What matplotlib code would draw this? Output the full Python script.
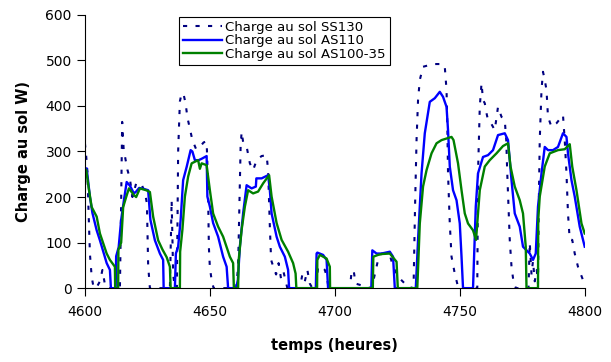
import numpy as np
import matplotlib
matplotlib.use("Agg")
import matplotlib.pyplot as plt

# heures / valeurs
t_ss130 = [4600, 4600.5, 4601, 4601.5, 4602, 4602.7, 4603.5, 4605, 4606, 4607, 4608, 4609,
           4614, 4614.4, 4614.9, 4615.5, 4616, 4617, 4618, 4619, 4620.5, 4622.5, 4624, 4624.8,
           4625.3, 4626, 4634, 4634.7, 4635.3, 4636, 4636.8, 4637.3, 4638, 4638.7, 4639.5,
           4640.3, 4641, 4642, 4643, 4644.5, 4646, 4647.5, 4648.7, 4649.2, 4649.6, 4650,
           4650.7, 4651.5, 4660.5, 4661.3, 4662.3, 4662.7, 4663.3, 4664.7, 4666, 4667.3,
           4668.7, 4670.7, 4672.7, 4673.3, 4674, 4674.5, 4675.5, 4676.5, 4677.5, 4678.5,
           4679.5, 4681, 4686, 4687, 4688, 4689, 4690, 4691, 4692.5, 4693.3, 4695, 4696,
           4696.8, 4697.5, 4706, 4706.7, 4707.5, 4708.3, 4714.5, 4715.5, 4717.3, 4718.7,
           4722, 4723.3, 4725.3, 4727.3, 4729.3, 4731.5, 4732.1, 4732.7, 4733.3, 4734,
           4735.3, 4739.3, 4743.3, 4744, 4744.7, 4745, 4745.3, 4746, 4746.7, 4748, 4749.3,
           4750, 4757, 4757.3, 4758, 4758.7, 4759.3, 4760, 4760.7, 4761.3, 4762.5, 4764,
           4765.3, 4766.7, 4768, 4768.6, 4769, 4769.5, 4770, 4770.7, 4771.6, 4772.5, 4777.5,
           4778, 4778.7, 4779.3, 4780, 4780.8, 4781.3, 4781.6, 4782, 4782.7, 4783.3, 4784, 4784.7,
           4785.3, 4786.7, 4788.7, 4790.7, 4791.3, 4792, 4792.7, 4793.3, 4794, 4795, 4796,
           4797.3, 4799.3, 4800]
ss130 = [318, 290, 255, 160, 75, 25, 0, 5, 15, 40, 8, 0,
         0, 150, 365, 305, 290, 260, 240, 200, 230, 230, 210, 186,
         50, 0, 0, 193, 30, 0, 0, 300, 410, 428, 425,
         405, 375, 350, 325, 305, 310, 320, 322, 240, 90, 45,
         18, 0, 0, 47, 311, 343, 321, 311, 274, 259,
         281, 290, 292, 259, 135, 62, 45, 30, 55, 20,
         35, 0, 0, 30, 15, 40, 10, 0, 0, 47, 45, 40,
         25, 0, 0, 35, 40, 10, 0, 18, 62, 76,
         73, 47, 25, 14, 3, 0, 179, 325, 413, 457,
         486, 492, 492, 486, 435, 362, 252, 142, 69, 32, 3,
         0, 0, 252, 398, 450, 413, 406, 384, 369, 362, 347,
         398, 376, 369, 325, 252, 179, 106, 47, 10, 0, 0,
         100, 30, 60, 15, 40, 10, 179, 325, 435, 475, 457, 435,
         376, 354, 362, 376, 380, 325, 252, 164, 106, 106, 76,
         47, 18, 10]

t_as110 = [4600, 4600.7, 4602, 4603, 4604.7, 4606, 4608.7, 4610, 4610.4, 4612.3, 4612.5,
           4613.5, 4614.5, 4615.6, 4616.7, 4618, 4619.6, 4620.5, 4621.7, 4623.5, 4625.3,
           4626.2, 4628, 4630, 4631.3, 4631.5, 4636, 4636.4, 4637.3, 4638.3, 4639.3, 4640.7,
           4642.3, 4643, 4644, 4645.5, 4646.7, 4648.7, 4649, 4650, 4651.3, 4653.3, 4655.3,
           4656.7, 4657.3, 4660.5, 4661.2, 4662, 4663.3, 4664.7, 4666.7, 4668.4, 4668.6,
           4670.7, 4673.3, 4674, 4674.7, 4676.7, 4678, 4680, 4681.3, 4681.7, 4692.4, 4692.7,
           4693, 4695.3, 4696.7, 4697.3, 4714.6, 4715, 4716.7, 4718.7, 4722, 4723.3, 4724,
           4732.4, 4733.3, 4734.7, 4736, 4738, 4740, 4742, 4743.3, 4744.7, 4745.3, 4746,
           4747.3, 4748.7, 4750, 4750.7, 4751.3, 4755.3, 4756.4, 4757.3, 4759.3, 4761.3,
           4763.3, 4765.3, 4768, 4769.3, 4770.7, 4772, 4774, 4775.3, 4778, 4779.3, 4780.4,
           4781.3, 4782.7, 4784, 4785.3, 4787.3, 4789.3, 4791.3, 4792.7, 4793.3, 4794.7,
           4796, 4798, 4800]
as110 = [253, 263, 200, 165, 127, 105, 55, 40, 0, 0, 70,
         90, 150, 193, 233, 225, 208, 212, 220, 218, 215,
         150, 105, 76, 62, 0, 0, 76, 91, 150, 237, 266,
         303, 300, 281, 281, 284, 290, 201, 179, 143, 113, 69,
         47, 0, 0, 18, 91, 164, 226, 219, 223, 241,
         241, 248, 215, 164, 113, 91, 69, 40, 0, 0, 76,
         78, 73, 62, 0, 0, 83, 76, 76, 80, 69, 0,
         0, 106, 252, 340, 409, 417, 431, 420, 398, 347, 267,
         215, 193, 142, 69, 0, 0, 179, 252, 288, 292,
         303, 336, 340, 325, 237, 164, 135, 91, 76, 62, 76,
         179, 252, 310, 303, 303, 310, 340, 332, 296, 237,
         201, 135, 91]

t_as100 = [4600, 4600.5, 4601.5, 4602.7, 4604.7, 4606, 4608.7, 4610, 4612, 4612.1, 4613.3,
           4613.4, 4614.5, 4615.3, 4616.5, 4617.6, 4619.5, 4620.5, 4622, 4624.5, 4626,
           4627.3, 4629.3, 4631, 4632.7, 4634, 4634.3, 4638, 4638.1, 4639, 4640, 4641.3,
           4642.7, 4645.3, 4646, 4646.7, 4648.7, 4650, 4651.3, 4653.3, 4655.3, 4658, 4659.3,
           4659.6, 4661.3, 4661.5, 4662.7, 4664, 4665.3, 4667.3, 4669.3, 4671.3, 4673.7,
           4674.7, 4676.7, 4678.7, 4681.3, 4683.3, 4684.3, 4684.6, 4692.9, 4693, 4694,
           4696.7, 4698, 4698.1, 4715.2, 4715.4, 4717.3, 4719, 4722, 4724.7, 4725.2, 4733,
           4734, 4735.3, 4736.7, 4738.7, 4740.7, 4742.7, 4746.7, 4747.5, 4749.3, 4750.7,
           4752, 4753.3, 4755.3, 4756.5, 4758, 4760, 4762, 4764.7, 4767.3, 4769.3, 4770.3,
           4772, 4774, 4775.3, 4776.4, 4776.7, 4781.3, 4781.4, 4782, 4784, 4786, 4789.3,
           4792, 4794, 4795, 4796.7, 4798.7, 4800]
as100 = [259, 260, 220, 178, 157, 120, 76, 62, 47, 0, 0,
         84, 100, 178, 200, 219, 205, 200, 219, 215, 211,
         157, 105, 85, 68, 47, 0, 0, 80, 128, 201, 245,
         274, 281, 262, 274, 270, 215, 164, 135, 113, 69, 55,
         0, 0, 60, 128, 179, 215, 208, 212, 230, 248,
         201, 143, 106, 80, 55, 32, 0, 0, 62, 73,
         65, 47, 0, 0, 69, 73, 75, 76, 58, 0, 0,
         142, 223, 259, 296, 318, 325, 332, 325, 274, 215,
         164, 142, 127, 106, 215, 267, 281, 296, 312, 318, 267,
         223, 193, 164, 91, 0, 0, 150, 201, 267, 296, 303,
         305, 316, 267, 215, 142, 120]

fig = plt.figure(figsize=(6.11, 3.62), dpi=100)
ax = fig.add_axes([0.139, 0.204, 0.818, 0.755])

ax.plot(t_ss130, ss130, color="#000080", linestyle=(0, (2, 4)), linewidth=1.5,
        label="Charge au sol SS130")
ax.plot(t_as110, as110, color="#0000ff", linewidth=1.7, label="Charge au sol AS110")
ax.plot(t_as100, as100, color="#008000", linewidth=1.7, label="Charge au sol AS100-35")

ax.set_xlim(4600, 4800)
ax.set_ylim(0, 600)
ax.set_xticks(np.arange(4600, 4801, 50))
ax.set_yticks(np.arange(0, 601, 100))
ax.spines["top"].set_visible(False)
ax.spines["right"].set_visible(False)
ax.tick_params(direction="out", length=6, labelsize=10, colors="black")
ax.tick_params(axis="x", pad=6)

ax.set_xlabel("temps (heures)", fontsize=10.5, fontweight="bold", labelpad=14)
ax.set_ylabel("Charge au sol W)", fontsize=10.5, fontweight="bold", labelpad=10)

leg = ax.legend(loc="upper left", bbox_to_anchor=(0.188, 0.993), fontsize=9.5,
                handlelength=3.0, handletextpad=0.2, labelspacing=0.05,
                borderpad=0.3, fancybox=False, framealpha=1, borderaxespad=0)
leg.get_frame().set_edgecolor("black")
leg.get_frame().set_linewidth(0.8)

plt.savefig("out.png", dpi=100)
